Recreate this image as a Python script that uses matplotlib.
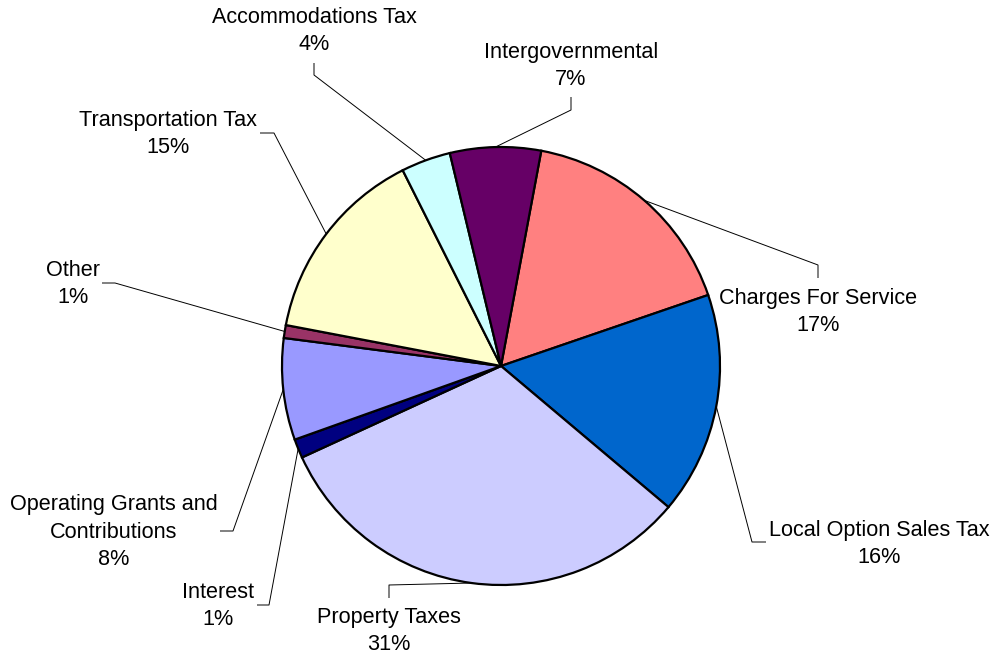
import matplotlib
matplotlib.use("Agg")
import matplotlib.pyplot as plt
import numpy as np

# fatias no sentido horario a partir do topo
categorias = ["Charges For Service", "Local Option Sales Tax", "Property Taxes",
              "Interest", "Operating Grants and\nContributions", "Other",
              "Transportation Tax", "Accommodations Tax", "Intergovernmental"]
valores = [16.8, 16.4, 32.0, 1.4, 7.5, 0.95, 14.6, 3.65, 6.7]
rotulos_pct = ["17%", "16%", "31%", "1%", "8%", "1%", "15%", "4%", "7%"]
cores = ["#FF8080", "#0066CC", "#CCCCFF", "#000080", "#9999FF",
         "#993366", "#FFFFCC", "#CCFFFF", "#660066"]

W, H = 1001, 658
plt.rcParams['font.family'] = ['Liberation Sans', 'DejaVu Sans']

fig = plt.figure(figsize=(W / 100, H / 100), dpi=100)
ax = fig.add_axes([0, 0, 1, 1])

cx, cy, r = 501, H - 366, 219
wedges, _ = ax.pie(valores, colors=cores, startangle=79.4, counterclock=False,
                   center=(cx, cy), radius=r,
                   wedgeprops=dict(edgecolor='black', linewidth=1.6))

ax.set_xlim(0, W)
ax.set_ylim(0, H)
ax.set_aspect('equal')
ax.axis('off')

# posicao do texto (px, origem no topo) e pontos da linha guia: ponta, cotovelo
pos_texto = [(818, 312), (879, 544), (389, 631), (218, 606), (114, 532),
             (73, 284), (168, 134), (314, 31), (571, 66)]
guias = [[(818, 278), (818, 265)],
         [(766, 542), (752, 542)],
         [(389, 598), (389, 585)],
         [(257, 605), (269, 605)],
         [(220, 531), (233, 531)],
         [(102, 283), (115, 283)],
         [(260, 133), (274, 133)],
         [(314, 63), (314, 75)],
         [(571, 97), (571, 110)]]

for w, cat, pct, (tx, ty), g in zip(wedges, categorias, rotulos_pct, pos_texto, guias):
    ang = np.deg2rad((w.theta1 + w.theta2) / 2)
    ax_ = cx + r * np.cos(ang)
    ay_ = cy + r * np.sin(ang)
    xs = [g[0][0], g[1][0], ax_]
    ys = [H - g[0][1], H - g[1][1], ay_]
    ax.plot(xs, ys, color='black', lw=0.7, solid_capstyle='butt')
    ax.text(tx, H - ty, cat + "\n" + pct, ha='center', va='center',
            fontsize=15.6, linespacing=1.42, color='black')

fig.savefig("out.png", dpi=100)
